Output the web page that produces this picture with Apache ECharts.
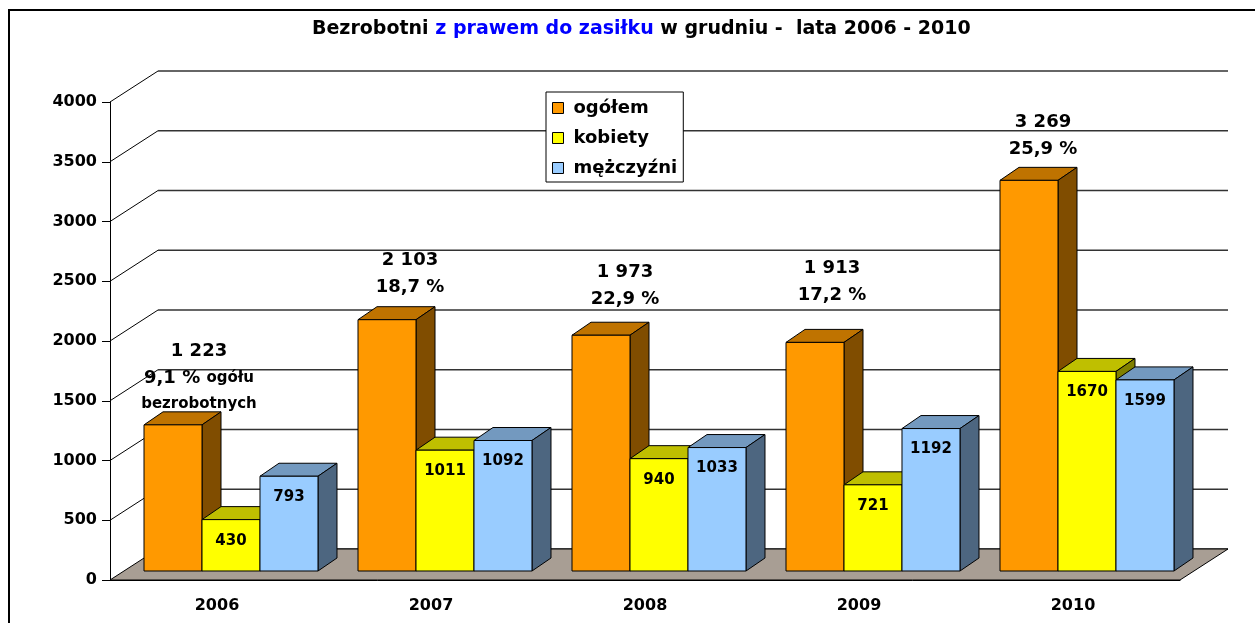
<!DOCTYPE html>
<html>
<head>
<meta charset="utf-8">
<script src="https://cdn.jsdelivr.net/npm/echarts@6/dist/echarts.min.js"></script>
<style>
html, body { margin: 0; padding: 0; background: #fff; }
#chart { width: 1255px; height: 623px; }
</style>
</head>
<body>
<div id="chart"></div>
<script>
const years = ['2006', '2007', '2008', '2009', '2010'];
const ogolem = [1223, 2103, 1973, 1913, 3269];
const kobiety = [430, 1011, 940, 721, 1670];
const mezczyzni = [793, 1092, 1033, 1192, 1599];
const udzial = ['9,1 %', '18,7 %', '22,9 %', '17,2 %', '25,9 %'];
const yTicks = [0, 500, 1000, 1500, 2000, 2500, 3000, 3500, 4000];

const FONT = '"DejaVu Sans", sans-serif';

// pseudo 3D (px)
const WALL = [48, -31];   // tylna ściana względem płaszczyzny osi
const ROW = [14, -9];     // gdzie stoją słupki
const DEPTH = [19, -13];  // głębokość słupka

// etykiety sum w oryginale były ręcznie przesunięte
const totalLabelShift = [[26, -74], [23, -59], [24, -63], [17, -74], [14, -58]];

const colors = [
  { front: '#FF9900', top: '#BF7300', side: '#804D00' },
  { front: '#FFFF00', top: '#BFBF00', side: '#808000' },
  { front: '#99CCFF', top: '#7399BF', side: '#4D6680' }
];

const fmt = v => String(v).replace(/\B(?=(\d{3})+(?!\d))/g, ' ');

function wallItem(params, api) {
  const v = api.value(1);
  const p = api.coord([0, v]);
  const cs = params.coordSys;
  const x0 = cs.x;
  const yb = p[1] + WALL[1];
  const children = [];
  if (v > 0) {
    children.push({
      type: 'line',
      shape: { x1: x0, y1: p[1], x2: x0 + WALL[0], y2: yb },
      style: { stroke: '#000', lineWidth: 1 }
    });
  }
  children.push({
    type: 'line',
    shape: { x1: x0 + WALL[0], y1: yb, x2: x0 + cs.width + WALL[0], y2: yb },
    style: { stroke: '#333', lineWidth: 1.3 }
  });
  return { type: 'group', children };
}

function floorItem(params, api) {
  const p = api.coord([0, 0]);
  const cs = params.coordSys;
  const x0 = cs.x, x1 = cs.x + cs.width, y0 = p[1];
  return {
    type: 'polygon',
    shape: { points: [[x0, y0], [x1, y0], [x1 + WALL[0], y0 + WALL[1]], [x0 + WALL[0], y0 + WALL[1]]] },
    style: { fill: '#a89e94', stroke: '#000', lineWidth: 1 }
  };
}

function barItem(k) {
  return function (params, api) {
    const i = api.value(0), v = api.value(1);
    const base = api.coord([i, 0]);
    const top = api.coord([i, v]);
    const bw = api.size([1, 0])[0];
    const w = bw * 0.271;
    const x0 = base[0] + ROW[0] - 1.5 * w + k * w;
    const x1 = x0 + w;
    const yb = base[1] + ROW[1], yt = top[1] + ROW[1];
    const dx = DEPTH[0], dy = DEPTH[1];
    const c = colors[k];
    const ln = { stroke: '#000', lineWidth: 1 };
    const children = [
      { type: 'polygon', shape: { points: [[x0, yt], [x0 + dx, yt + dy], [x1 + dx, yt + dy], [x1, yt]] },
        style: Object.assign({ fill: c.top }, ln) },
      { type: 'polygon', shape: { points: [[x1, yt], [x1 + dx, yt + dy], [x1 + dx, yb + dy], [x1, yb]] },
        style: Object.assign({ fill: c.side }, ln) },
      { type: 'rect', shape: { x: x0, y: yt, width: w, height: yb - yt },
        style: Object.assign({ fill: c.front }, ln) }
    ];
    if (k === 0) {
      const sh = totalLabelShift[i];
      let txt = fmt(v) + '\n' + udzial[i];
      if (i === 0) txt += ' {s|ogółu}\n{s|bezrobotnych}';
      children.push({
        type: 'text', x: x0 + w / 2 + sh[0], y: yt + sh[1] - 13.5,
        style: {
          text: txt, fill: '#000', fontFamily: FONT, fontWeight: 'bold', fontSize: 18,
          lineHeight: 27, align: 'center', verticalAlign: 'top',
          rich: { s: { fontFamily: FONT, fontWeight: 'bold', fontSize: 15, lineHeight: 25, fill: '#000' } }
        }
      });
    } else {
      children.push({
        type: 'text', x: x0 + w / 2, y: yt + 21,
        style: {
          text: String(v), fill: '#000', fontFamily: FONT, fontWeight: 'bold', fontSize: 15,
          align: 'center', verticalAlign: 'middle'
        }
      });
    }
    return { type: 'group', children };
  };
}

const names = ['ogółem', 'kobiety', 'mężczyźni'];
const seriesData = [ogolem, kobiety, mezczyzni];

const myChart = echarts.init(document.getElementById('chart'));
const option = {
  animation: false,
  title: {
    text: '{a|Bezrobotni }{b|z prawem do zasiłku}{a| w grudniu -  lata 2006 - 2010}',
    left: 312,
    top: 20,
    padding: 0,
    textStyle: {
      rich: {
        a: { fontFamily: FONT, fontWeight: 'bold', fontSize: 19, color: '#000' },
        b: { fontFamily: FONT, fontWeight: 'bold', fontSize: 19, color: '#0000FF' }
      }
    }
  },
  legend: {
    data: names,
    orient: 'vertical',
    left: 546,
    top: 92,
    backgroundColor: '#fff',
    borderColor: '#000',
    borderWidth: 1,
    borderRadius: 0,
    padding: [7, 6, 5, 6],
    itemGap: 12,
    itemWidth: 11,
    itemHeight: 11,
    icon: 'rect',
    itemStyle: { borderColor: '#000', borderWidth: 1 },
    textStyle: { fontFamily: FONT, fontWeight: 'bold', fontSize: 18, color: '#000', padding: [0, 0, 0, 5] }
  },
  graphic: [{
    type: 'rect',
    shape: { x: 9, y: 10, width: 1400, height: 800 },
    style: { fill: 'none', stroke: '#000', lineWidth: 2 },
    silent: true
  }],
  grid: { left: 110, right: 75, top: 102, bottom: 43 },
  xAxis: {
    type: 'category',
    data: years,
    axisLine: { lineStyle: { color: '#000', width: 1 } },
    axisTick: { length: 7, lineStyle: { color: '#000' } },
    axisLabel: { color: '#000', fontFamily: FONT, fontWeight: 'bold', fontSize: 16, margin: 18 }
  },
  yAxis: {
    type: 'value',
    min: 0,
    max: 4000,
    interval: 500,
    axisLine: { show: true, lineStyle: { color: '#000', width: 1 } },
    axisTick: { show: true, length: 8, lineStyle: { color: '#000' } },
    axisLabel: { color: '#000', fontFamily: FONT, fontWeight: 'bold', fontSize: 16, margin: 13,
      formatter: v => String(v) },
    splitLine: { show: false }
  },
  series: [
    {
      type: 'custom', name: 'wall', renderItem: wallItem, z: 1, silent: true,
      data: yTicks.map(v => [0, v]), encode: { x: 0, y: 1 }
    },
    {
      type: 'custom', name: 'floor', renderItem: floorItem, z: 1, silent: true,
      data: [[0, 0]], encode: { x: 0, y: 1 }
    }
  ].concat(names.map((n, k) => ({
    type: 'custom',
    name: n,
    z: 2,
    renderItem: barItem(k),
    itemStyle: { color: colors[k].front },
    data: seriesData[k].map((v, i) => [i, v]),
    encode: { x: 0, y: 1 }
  })))
};
myChart.setOption(option);
</script>
</body>
</html>
